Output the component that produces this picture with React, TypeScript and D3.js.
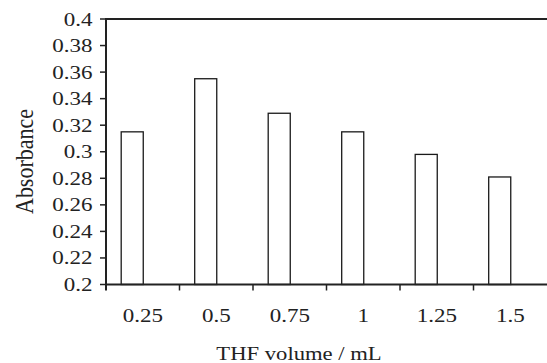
import React from 'react'
import { scaleBand, scaleLinear } from 'd3'

const volumes = ['0.25', '0.5', '0.75', '1', '1.25', '1.5']
const absorbance = [0.315, 0.355, 0.329, 0.315, 0.298, 0.281]
// Excel-style clustered layout: a second (empty) series slot sits to the right of each bar
const seriesSlots = ['absorbance', 'empty']
const yTicks = [0.2, 0.22, 0.24, 0.26, 0.28, 0.3, 0.32, 0.34, 0.36, 0.38, 0.4]
const yTickLabels = ['0.2', '0.22', '0.24', '0.26', '0.28', '0.3', '0.32', '0.34', '0.36', '0.38', '0.4']

const ink = '#222'
const stretch = 1.18 // the source picture is a bit wider than tall

function Label({ x, y, anchor, size, children }: { x: number; y: number; anchor: string; size: number; children: string }) {
  return (
    <text transform={`translate(${x},${y}) scale(${stretch},1)`} textAnchor={anchor} fontSize={size} fill={ink}>
      {children}
    </text>
  )
}

function App() {
  const width = 547
  const height = 363
  const left = 106
  const right = 547
  const top = 19
  const bottom = 284.5
  const font = '"Liberation Serif", "DejaVu Serif", serif'

  const x0 = scaleBand<string>().domain(volumes).range([left, right]).paddingInner(0.4).paddingOuter(0.2)
  const x1 = scaleBand<string>().domain(seriesSlots).range([0, x0.bandwidth()])
  const y = scaleLinear().domain([0.2, 0.4]).range([bottom, top])
  const step = x0.step()

  return (
    <svg width={width} height={height} style={{ position: 'absolute', left: 0, top: 0 }} fontFamily={font}>
      <rect width={width} height={height} fill="#fff" />

      {/* bars */}
      {absorbance.map((v, i) => (
        <rect
          key={volumes[i]}
          x={(x0(volumes[i]) ?? 0) + (x1('absorbance') ?? 0) + 0.5}
          y={y(v)}
          width={x1.bandwidth()}
          height={y(0.2) - y(v)}
          fill="#fff"
          stroke="#1a1a1a"
          strokeWidth={1.3}
        />
      ))}

      {/* top frame line */}
      <line x1={left} x2={right} y1={y(0.4)} y2={y(0.4)} stroke={ink} strokeWidth={2} />

      {/* y axis */}
      <line x1={left} x2={left} y1={top - 1} y2={bottom + 6} stroke={ink} strokeWidth={2} />
      {yTicks.map((t, i) => (
        <g key={t}>
          <line x1={left - 6} x2={left} y1={y(t)} y2={y(t)} stroke={ink} strokeWidth={1.5} />
          <Label x={92.5} y={y(t) + 6.5} anchor="end" size={19.5}>
            {yTickLabels[i]}
          </Label>
        </g>
      ))}

      {/* x axis */}
      <line x1={left} x2={right} y1={bottom} y2={bottom} stroke={ink} strokeWidth={2} />
      {volumes.slice(1).map((v) => (
        <line
          key={v}
          x1={(x0(v) ?? 0) - step * 0.2}
          x2={(x0(v) ?? 0) - step * 0.2}
          y1={bottom}
          y2={bottom + 6}
          stroke={ink}
          strokeWidth={1.5}
        />
      ))}
      {volumes.map((v) => (
        <Label key={v} x={(x0(v) ?? 0) + x0.bandwidth() / 2} y={321.5} anchor="middle" size={19.5}>
          {v}
        </Label>
      ))}

      {/* axis titles */}
      <Label x={299} y={359.5} anchor="middle" size={19.2}>
        THF volume / mL
      </Label>
      <text transform={`translate(33,161.5) scale(${stretch},1) rotate(-90)`} textAnchor="middle" fontSize={22} fill={ink}>
        Absorbance
      </text>
    </svg>
  )
}

export default App
